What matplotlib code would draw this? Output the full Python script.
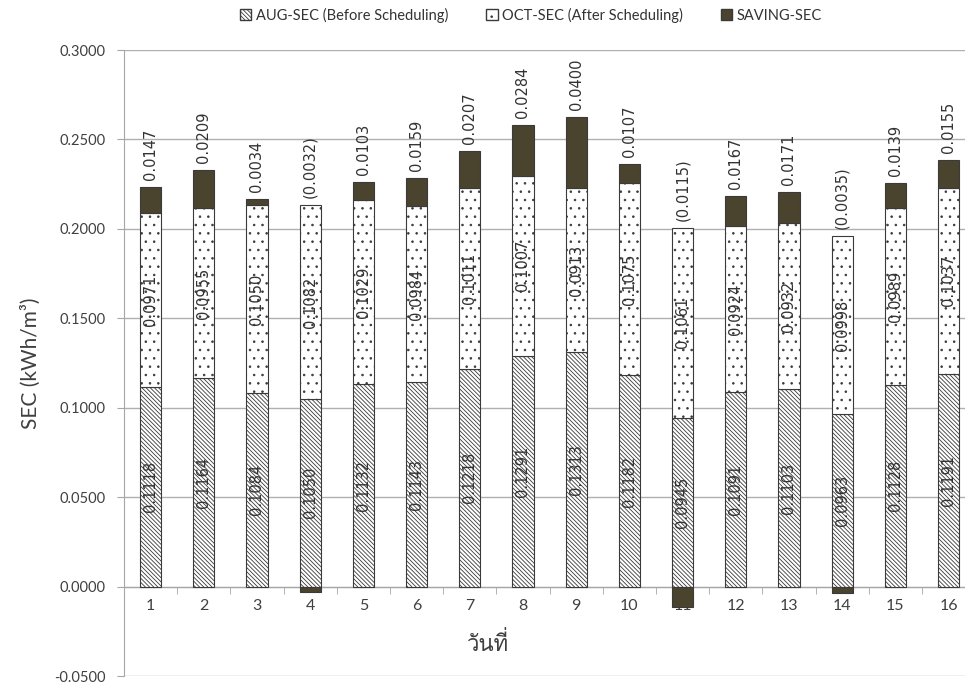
import numpy as np
import matplotlib
matplotlib.use("Agg")
import matplotlib.pyplot as plt
from matplotlib import font_manager
from matplotlib.ft2font import FT2Font
from matplotlib.patches import Patch

days = [str(d) for d in range(1, 17)]
aug_sec = [0.1118, 0.1164, 0.1084, 0.1050, 0.1132, 0.1143, 0.1218, 0.1291,
           0.1313, 0.1182, 0.0945, 0.1091, 0.1103, 0.0963, 0.1128, 0.1191]
oct_sec = [0.0971, 0.0955, 0.1050, 0.1082, 0.1029, 0.0984, 0.1011, 0.1007,
           0.0913, 0.1075, 0.1061, 0.0924, 0.0932, 0.0998, 0.0989, 0.1037]
saving_sec = [0.0147, 0.0209, 0.0034, -0.0032, 0.0103, 0.0159, 0.0207, 0.0284,
              0.0400, 0.0107, -0.0115, 0.0167, 0.0171, -0.0035, 0.0139, 0.0155]


def thai_font():
    # look for any installed font that has Thai glyphs
    for f in font_manager.fontManager.ttflist:
        try:
            if FT2Font(f.fname).get_char_index(0x0E27):
                return f.name
        except Exception:
            pass
    return "DejaVu Sans"


thai = thai_font()
plt.rcParams['font.family'] = ['Lato', 'DejaVu Sans']
plt.rcParams['hatch.linewidth'] = 0.6

aug = np.array(aug_sec)
octv = np.array(oct_sec)
sav = np.array(saving_sec)
x = np.arange(len(days))

fig = plt.figure(figsize=(9.65, 6.84), dpi=100)
ax = fig.add_axes([0.1285, 0.0115, 0.882, 0.9154])

edge = '#3a3a3a'
diag = '\\' * 8
w = 0.4
ax.bar(x, aug, w, color='white', edgecolor=edge, hatch=diag, linewidth=0.8, zorder=3)
ax.bar(x, octv, w, bottom=aug, color='white', edgecolor=edge, hatch='..', linewidth=0.8, zorder=3)
sav_bottom = np.where(sav >= 0, aug + octv, 0)
ax.bar(x, sav, w, bottom=sav_bottom, color='#4a432e', edgecolor=edge, linewidth=0.8, zorder=3)

lab = dict(rotation=90, ha='center', fontsize=10.5, color='#333333', family='DejaVu Sans', zorder=4)
for i in range(len(x)):
    ax.text(x[i], aug[i] / 2, f"{aug[i]:.4f}", va='center', **lab)
    ax.text(x[i], aug[i] + octv[i] / 2, f"{octv[i]:.4f}", va='center', **lab)
    top = aug[i] + octv[i] + max(sav[i], 0)
    s = f"{sav[i]:.4f}" if sav[i] >= 0 else f"({abs(sav[i]):.4f})"
    ax.annotate(s, (x[i], top), xytext=(0, 5), textcoords='offset points', va='bottom', **lab)

ax.set_xlim(-0.5, len(x) - 0.5)
ax.set_ylim(-0.05, 0.30)
ax.set_yticks(np.arange(-0.05, 0.3001, 0.05))
ax.yaxis.set_major_formatter(matplotlib.ticker.FormatStrFormatter('%.4f'))
ax.grid(axis='y', color='#b0b0b0', linewidth=1.0, zorder=0)
ax.set_axisbelow(True)

for s in ['top', 'right']:
    ax.spines[s].set_visible(False)
ax.spines['left'].set_color('#a6a6a6')
ax.spines['bottom'].set_position(('data', 0))
ax.spines['bottom'].set_color('#a6a6a6')
ax.spines['bottom'].set_zorder(2)

ax.set_xticks(x)
ax.set_xticklabels(days)
ax.set_xticks(np.arange(0.5, len(x) - 0.5, 1), minor=True)
ax.tick_params(axis='x', which='major', length=0, pad=9, labelsize=11.5, labelcolor='#404040')
ax.tick_params(axis='x', which='minor', length=5, color='#a6a6a6', direction='out')
ax.tick_params(axis='y', length=5, color='#a6a6a6', labelsize=10.5, labelcolor='#404040', pad=8)

ax.set_ylabel('SEC (kWh/m³)', fontsize=15, color='#404040', labelpad=10)
ax.set_xlabel('วันที่', fontsize=16, color='#404040', family=[thai, 'DejaVu Sans'])
ax.xaxis.set_label_coords(0.428, 0.07)

handles = [Patch(facecolor='white', edgecolor=edge, hatch=diag, label='AUG-SEC (Before Scheduling)'),
           Patch(facecolor='white', edgecolor=edge, hatch='..', label='OCT-SEC (After Scheduling)'),
           Patch(facecolor='#4a432e', edgecolor=edge, label='SAVING-SEC')]
fig.legend(handles=handles, loc='center', bbox_to_anchor=(0.55, 0.978), ncol=3, frameon=False,
           handlelength=0.8, handleheight=0.8, handletextpad=0.3, columnspacing=2.6,
           fontsize=10.5, labelcolor='#333333')

fig.savefig('out.png', dpi=100)
